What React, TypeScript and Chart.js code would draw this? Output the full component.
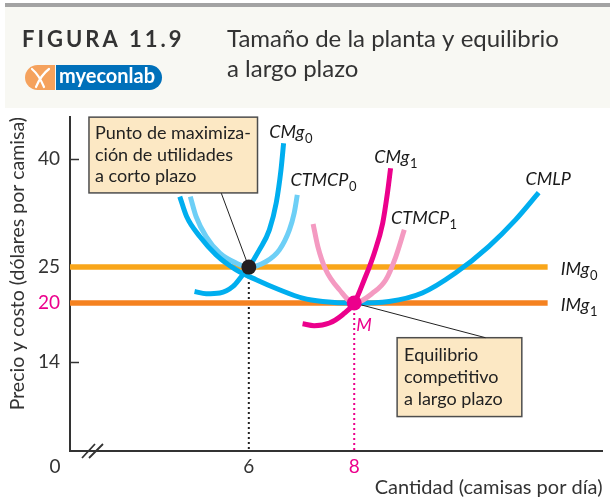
import React, { useEffect, useRef } from 'react';
import { Chart, registerables } from 'chart.js';

Chart.register(...registerables);

const FONT = 'Lato, "Open Sans", sans-serif';

// ---- texts ----
const FIGURE_NUMBER = 'FIGURA 11.9';
const TITLE_LINES = ['Tamaño de la planta y equilibrio', 'a largo plazo'];
const LOGO_TEXT = 'myeconlab';
const Y_TITLE = 'Precio y costo (dólares por camisa)';
const X_TITLE = 'Cantidad (camisas por día)';
const BOX1_LINES = ['Punto de maximiza-', 'ción de utilidades', 'a corto plazo'];
const BOX2_LINES = ['Equilibrio', 'competitivo', 'a largo plazo'];

// ---- axes (schematic, broken x axis) ----
const X_MIN = 2.607;
const X_MAX = 12.711;
const Y_MIN = -0.58;
const Y_MAX = 45.88;
const xTickValues = [6, 8];
const xTickLabels = ['6', '8'];
const yTickValues = [11.85, 20, 25, 40];
const yTickLabels = ['14', '20', '25', '40'];
const ORIGIN_LABEL = '0';

// ---- prices / quantities ----
const PRICE_0 = 25;
const PRICE_1 = 20;
const Q_SHORT = 6;
const Q_LONG = 8;
const PRICE_LINE_END = 11.67;

// ---- cost curves [quantity, $] ----
const cmg0: [number, number][] = [
  [4.97, 21.61], [5.19, 21.29], [5.45, 21.39], [5.7, 22.31], [5.86, 23.69],
  [6.0, 25.0], [6.2, 27.4], [6.39, 30.18], [6.52, 33.93], [6.61, 38.51], [6.66, 42.22],
];
const ctmcp0: [number, number][] = [
  [4.89, 34.81], [5.0, 32.03], [5.19, 29.25], [5.45, 26.94], [5.76, 25.56],
  [6.0, 25.0], [6.33, 25.78], [6.58, 27.4], [6.77, 30.18], [6.86, 32.5], [6.92, 35.04],
];
const cmlp: [number, number][] = [
  [4.69, 34.81], [4.82, 32.03], [5.07, 29.25], [5.38, 26.71], [5.76, 24.63],
  [6.14, 23.24], [6.58, 21.85], [7.02, 20.69], [7.4, 20.22], [8.0, 20.0],
  [8.66, 20.22], [9.29, 21.39], [9.92, 24.17], [10.55, 27.86], [11.06, 31.57], [11.5, 35.36],
];
const cmg1: [number, number][] = [
  [7.02, 17.13], [7.24, 16.85], [7.53, 17.22], [7.78, 18.38], [8.0, 20.0],
  [8.19, 23.24], [8.38, 26.94], [8.54, 31.11], [8.63, 35.28], [8.69, 38.75],
];
const ctmcp1: [number, number][] = [
  [7.22, 31.01], [7.31, 27.86], [7.46, 24.63], [7.72, 21.85], [8.0, 20.0],
  [8.35, 21.39], [8.6, 23.24], [8.79, 26.47], [8.95, 30.18],
];

// ---- curve labels: main, subscript, x, y(baseline) ----
const curveLabelNames = ['CMg', 'CTMCP', 'CMg', 'CTMCP', 'CMLP', 'IMg', 'IMg'];
const curveLabelSubs = ['0', '0', '1', '1', '', '0', '1'];
const curveLabelX = [6.39, 6.79, 8.38, 8.7, 11.25, 11.92, 11.92];
const curveLabelY = [42.9, 36.3, 39.49, 31.01, 36.43, 23.93, 18.83];
const M_LABEL = 'M';
const M_LABEL_POS = [8.04, 16.15];

// ---- annotation boxes [left, top, right, bottom] in data units ----
const box1Rect = [2.967, 45.86, 6.165, 35.32];
const box1Anchor = [5.478, 35.28];
const box2Rect = [8.814, 15.18, 11.18, 4.21];
const box2Anchor = [10.49, 15.18];

// ---- colours ----
const BLUE = '#00AEEF';
const LIGHT_BLUE = '#6DCFF6';
const MAGENTA = '#EC008C';
const PINK = '#F49AC1';
const ORANGE_LIGHT = '#F9A61A';
const ORANGE_DARK = '#F58220';
const INK = '#333333';
const BOX_FILL = '#FCE8C4';

const toPts = (arr: [number, number][]) => arr.map(([x, y]) => ({ x, y }));

const curve = (arr: [number, number][], color: string, width: number) => ({
  data: toPts(arr),
  showLine: true,
  borderColor: color,
  borderWidth: width,
  pointRadius: 0,
  fill: false,
  cubicInterpolationMode: 'monotone' as const,
});

const dotted = (arr: [number, number][], color: string) => ({
  data: toPts(arr),
  showLine: true,
  borderColor: color,
  borderWidth: 2,
  borderDash: [2, 3],
  pointRadius: 0,
  fill: false,
});

const headerPlugin = {
  id: 'header',
  beforeDraw(chart: any) {
    const ctx = chart.ctx as CanvasRenderingContext2D;
    ctx.save();
    ctx.fillStyle = '#ffffff';
    ctx.fillRect(0, 0, chart.width, chart.height);
    ctx.fillStyle = '#F8F8F3';
    ctx.fillRect(5, 7, chart.width - 5, 101);
    ctx.fillStyle = '#A3A3A3';
    ctx.fillRect(5, 3, chart.width - 5, 4);

    ctx.fillStyle = INK;
    ctx.textBaseline = 'alphabetic';
    ctx.textAlign = 'left';
    ctx.font = `bold 22px ${FONT}`;
    (ctx as any).letterSpacing = '3px';
    ctx.fillText(FIGURE_NUMBER, 22, 47);
    (ctx as any).letterSpacing = '0px';
    ctx.font = `24px ${FONT}`;
    ctx.fillText(TITLE_LINES[0], 227, 47);
    ctx.fillText(TITLE_LINES[1], 227, 77);

    // logo
    const lx = 25, ly = 65, lh = 25, lw = 137, split = 30;
    ctx.fillStyle = '#F5A25D';
    ctx.beginPath();
    (ctx as any).roundRect(lx, ly, split, lh, [12.5, 0, 0, 12.5]);
    ctx.fill();
    ctx.fillStyle = '#0070BA';
    ctx.beginPath();
    (ctx as any).roundRect(lx + split + 1, ly, lw - split - 1, lh, [0, 12.5, 12.5, 0]);
    ctx.fill();
    ctx.strokeStyle = '#ffffff';
    ctx.lineWidth = 2.2;
    ctx.lineCap = 'round';
    ctx.beginPath();
    ctx.moveTo(32, 69);
    ctx.quadraticCurveTo(39, 75, 44, 87);
    ctx.moveTo(49, 69);
    ctx.quadraticCurveTo(41, 75, 36, 87);
    ctx.stroke();
    ctx.fillStyle = '#ffffff';
    ctx.font = `bold 20px ${FONT}`;
    ctx.fillText(LOGO_TEXT, 59, 83, 100);
    ctx.restore();
  },
};

const axisDecorPlugin = {
  id: 'axisDecor',
  beforeDatasetsDraw(chart: any) {
    const ctx = chart.ctx as CanvasRenderingContext2D;
    const y = chart.scales.y;
    const left = chart.chartArea.left;
    ctx.save();
    ctx.strokeStyle = INK;
    ctx.lineWidth = 1.5;
    yTickValues.forEach((v) => {
      const py = Math.round(y.getPixelForValue(v)) + 0.5;
      ctx.beginPath();
      ctx.moveTo(left, py);
      ctx.lineTo(left + 9, py);
      ctx.stroke();
    });
    ctx.restore();
  },
};

function subLabel(ctx: CanvasRenderingContext2D, x: number, y: number, main: string, sub: string, color: string) {
  ctx.fillStyle = color;
  ctx.textAlign = 'left';
  ctx.textBaseline = 'alphabetic';
  ctx.font = `italic 18px ${FONT}`;
  ctx.fillText(main, x, y);
  if (sub) {
    const w = ctx.measureText(main).width;
    ctx.font = `13px ${FONT}`;
    ctx.fillText(sub, x + w + 0.5, y + 5);
  }
}

function drawBox(ctx: CanvasRenderingContext2D, chart: any, rect: number[], lines: string[], padX: number, firstBase: number, lh: number) {
  const xs = chart.scales.x, ys = chart.scales.y;
  const l = xs.getPixelForValue(rect[0]);
  const t = ys.getPixelForValue(rect[1]);
  const r = xs.getPixelForValue(rect[2]);
  const b = ys.getPixelForValue(rect[3]);
  ctx.fillStyle = BOX_FILL;
  ctx.fillRect(l, t, r - l, b - t);
  ctx.strokeStyle = '#4D4D4D';
  ctx.lineWidth = 1.5;
  ctx.strokeRect(l, t, r - l, b - t);
  ctx.fillStyle = '#222';
  ctx.font = `18px ${FONT}`;
  ctx.textAlign = 'left';
  ctx.textBaseline = 'alphabetic';
  lines.forEach((s, i) => ctx.fillText(s, l + padX, t + firstBase + i * lh));
}

function connector(ctx: CanvasRenderingContext2D, chart: any, from: number[], to: number[], radius: number) {
  const xs = chart.scales.x, ys = chart.scales.y;
  const x1 = xs.getPixelForValue(from[0]);
  const y1 = ys.getPixelForValue(from[1]);
  const x2 = xs.getPixelForValue(to[0]);
  const y2 = ys.getPixelForValue(to[1]);
  const d = Math.hypot(x2 - x1, y2 - y1);
  const ex = x2 - ((x2 - x1) / d) * radius;
  const ey = y2 - ((y2 - y1) / d) * radius;
  ctx.strokeStyle = '#222';
  ctx.lineWidth = 1;
  ctx.beginPath();
  ctx.moveTo(x1, y1);
  ctx.lineTo(ex, ey);
  ctx.stroke();
}

const annotationPlugin = {
  id: 'annotations',
  afterDatasetsDraw(chart: any) {
    const ctx = chart.ctx as CanvasRenderingContext2D;
    const xs = chart.scales.x, ys = chart.scales.y;
    const { left, bottom } = chart.chartArea;
    ctx.save();
    curveLabelNames.forEach((name, i) => {
      subLabel(ctx, xs.getPixelForValue(curveLabelX[i]), ys.getPixelForValue(curveLabelY[i]), name, curveLabelSubs[i], '#1a1a1a');
    });
    subLabel(ctx, xs.getPixelForValue(M_LABEL_POS[0]), ys.getPixelForValue(M_LABEL_POS[1]), M_LABEL, '', MAGENTA);

    drawBox(ctx, chart, box1Rect, BOX1_LINES, 6, 22.3, 21.5);
    drawBox(ctx, chart, box2Rect, BOX2_LINES, 7, 23.7, 22);
    connector(ctx, chart, box1Anchor, [Q_SHORT, PRICE_0], 7.5);
    connector(ctx, chart, box2Anchor, [Q_LONG, PRICE_1], 7.5);

    // origin label
    ctx.fillStyle = INK;
    ctx.font = `19px ${FONT}`;
    ctx.textAlign = 'center';
    ctx.textBaseline = 'middle';
    ctx.fillText(ORIGIN_LABEL, left - 15, bottom + 15.5);

    // axis break mark
    ctx.strokeStyle = INK;
    ctx.lineWidth = 1.8;
    ctx.beginPath();
    ctx.moveTo(left + 12, bottom + 7);
    ctx.lineTo(left + 25, bottom - 7);
    ctx.moveTo(left + 19, bottom + 7);
    ctx.lineTo(left + 33, bottom - 7);
    ctx.stroke();
    ctx.restore();
  },
};

export default function App() {
  const ref = useRef<HTMLCanvasElement | null>(null);

  useEffect(() => {
    if (!ref.current) return;
    const chart = new Chart(ref.current, {
      type: 'scatter',
      data: {
        datasets: [
          { data: [{ x: Q_SHORT, y: PRICE_0 }], pointRadius: 7.5, pointBackgroundColor: '#231F20', pointBorderWidth: 0, showLine: false },
          { data: [{ x: Q_LONG, y: PRICE_1 }], pointRadius: 7.5, pointBackgroundColor: MAGENTA, pointBorderWidth: 0, showLine: false },
          curve(cmg1, MAGENTA, 5),
          curve(ctmcp1, PINK, 5),
          curve(cmg0, BLUE, 5),
          curve(cmlp, BLUE, 5),
          curve(ctmcp0, LIGHT_BLUE, 5),
          curve([[X_MIN, PRICE_1], [PRICE_LINE_END, PRICE_1]], ORANGE_DARK, 5.5),
          curve([[X_MIN, PRICE_0], [PRICE_LINE_END, PRICE_0]], ORANGE_LIGHT, 5.5),
          dotted([[Q_SHORT, PRICE_0], [Q_SHORT, Y_MIN]], '#222'),
          dotted([[Q_LONG, PRICE_1], [Q_LONG, Y_MIN]], MAGENTA),
        ] as any,
      },
      options: {
        animation: false,
        responsive: false,
        maintainAspectRatio: false,
        events: [],
        layout: { padding: { top: 117, left: 0, right: 6, bottom: 0 } },
        plugins: { legend: { display: false }, tooltip: { enabled: false } },
        scales: {
          x: {
            type: 'linear',
            min: X_MIN,
            max: X_MAX,
            grid: { display: false, drawTicks: false },
            border: { display: true, color: INK, width: 2 },
            afterBuildTicks: (s: any) => { s.ticks = xTickValues.map((v) => ({ value: v })); },
            afterFit: (s: any) => { s.height = 52; s.paddingLeft = 0; s.paddingRight = 0; },
            ticks: {
              padding: 4,
              autoSkip: false,
              maxRotation: 0,
              font: { size: 19, family: FONT },
              color: (c: any) => (c.tick && c.tick.value === Q_LONG ? MAGENTA : INK),
              callback: (_v: any, i: number) => xTickLabels[i],
            },
            title: {
              display: true,
              text: X_TITLE,
              align: 'end',
              color: INK,
              font: { size: 20, family: FONT },
              padding: { top: 0, bottom: 3 },
            },
          },
          y: {
            type: 'linear',
            min: Y_MIN,
            max: Y_MAX,
            grid: { display: false, drawTicks: false },
            border: { display: true, color: INK, width: 2 },
            afterBuildTicks: (s: any) => { s.ticks = yTickValues.map((v) => ({ value: v })); },
            afterFit: (s: any) => { s.width = 70; s.paddingTop = 0; s.paddingBottom = 0; },
            ticks: {
              padding: 10,
              autoSkip: false,
              font: { size: 19, family: FONT },
              color: (c: any) => (c.tick && c.tick.value === PRICE_1 ? MAGENTA : INK),
              callback: (_v: any, i: number) => yTickLabels[i],
            },
            title: {
              display: true,
              text: Y_TITLE,
              align: 'end',
              color: INK,
              font: { size: 19.5, family: FONT },
              padding: { top: 6, bottom: 0 },
            },
          },
        },
      } as any,
      plugins: [headerPlugin, axisDecorPlugin, annotationPlugin],
    });
    return () => chart.destroy();
  }, []);

  return (
    <div style={{ position: 'absolute', left: 0, top: 0, width: 610, height: 503, background: '#fff' }}>
      <canvas ref={ref} width={610} height={503} style={{ display: 'block', width: 610, height: 503 }} />
    </div>
  );
}
